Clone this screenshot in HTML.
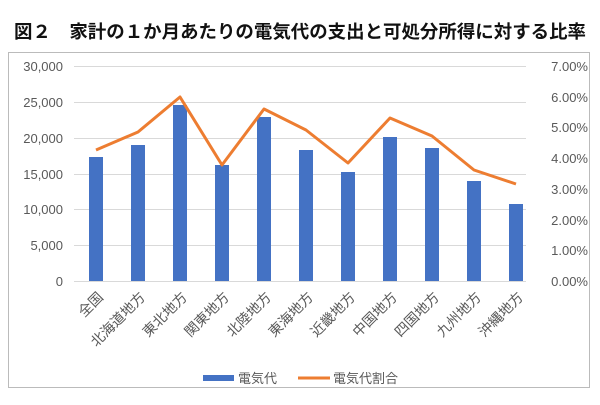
<!DOCTYPE html>
<html><head><meta charset="utf-8"><style>
body{margin:0;background:#fff;}
text{font-family:"Liberation Sans","Noto Sans CJK JP",sans-serif;}
</style></head><body>
<svg width="600" height="400" xmlns="http://www.w3.org/2000/svg">
<text x="14" y="38" font-size="18" font-weight="bold" fill="#111" textLength="572" lengthAdjust="spacingAndGlyphs">図２　家計の１か月あたりの電気代の支出と可処分所得に対する比率</text>
<rect x="8.5" y="52.5" width="581" height="335" fill="none" stroke="#bbb"/>
<g stroke="#d9d9d9" stroke-width="1">
<line x1="74" x2="526" y1="66.5" y2="66.5"/><line x1="74" x2="526" y1="102.5" y2="102.5"/>
<line x1="74" x2="526" y1="138.5" y2="138.5"/><line x1="74" x2="526" y1="174.5" y2="174.5"/>
<line x1="74" x2="526" y1="209.5" y2="209.5"/><line x1="74" x2="526" y1="245.5" y2="245.5"/>
<line x1="74" x2="526" y1="281.5" y2="281.5"/></g>
<g font-size="13" fill="#595959" text-anchor="end">
<text x="63" y="71">30,000</text><text x="63" y="107">25,000</text><text x="63" y="143">20,000</text>
<text x="63" y="179">15,000</text><text x="63" y="214">10,000</text><text x="63" y="250">5,000</text><text x="63" y="286">0</text>
</g>
<g font-size="13" fill="#595959" text-anchor="end">
<text x="588" y="71">7.00%</text><text x="588" y="102">6.00%</text><text x="588" y="132">5.00%</text>
<text x="588" y="163">4.00%</text><text x="588" y="194">3.00%</text><text x="588" y="225">2.00%</text>
<text x="588" y="255">1.00%</text><text x="588" y="286">0.00%</text>
</g>
<g fill="#4472c4">
<rect x="89" y="157" width="14" height="124"/>
<rect x="131" y="145" width="14" height="136"/>
<rect x="173" y="105" width="14" height="176"/>
<rect x="215" y="165" width="14" height="116"/>
<rect x="257" y="117" width="14" height="164"/>
<rect x="299" y="150" width="14" height="131"/>
<rect x="341" y="172" width="14" height="109"/>
<rect x="383" y="137" width="14" height="144"/>
<rect x="425" y="148" width="14" height="133"/>
<rect x="467" y="181" width="14" height="100"/>
<rect x="509" y="204" width="14" height="77"/>
</g>
<polyline fill="none" stroke="#ed7d31" stroke-width="3" stroke-linejoin="round"
points="96,150 138,132 180,97 222,165 264,109 306,130 348,163 390,118 432,136 474,170 516,184"/>
<g font-size="14" fill="#595959" text-anchor="end">
<text transform="translate(104,298) rotate(-45)">全国</text>
<text transform="translate(146,298) rotate(-45)">北海道地方</text>
<text transform="translate(188,298) rotate(-45)">東北地方</text>
<text transform="translate(230,298) rotate(-45)">関東地方</text>
<text transform="translate(272,298) rotate(-45)">北陸地方</text>
<text transform="translate(314,298) rotate(-45)">東海地方</text>
<text transform="translate(356,298) rotate(-45)">近畿地方</text>
<text transform="translate(398,298) rotate(-45)">中国地方</text>
<text transform="translate(440,298) rotate(-45)">四国地方</text>
<text transform="translate(482,298) rotate(-45)">九州地方</text>
<text transform="translate(524,298) rotate(-45)">沖縄地方</text>
</g>
<rect x="203" y="375" width="31" height="6" fill="#4472c4"/>
<text x="238" y="383" font-size="13" fill="#595959">電気代</text>
<line x1="298" x2="330" y1="378" y2="378" stroke="#ed7d31" stroke-width="3"/>
<text x="333" y="383" font-size="13" fill="#595959">電気代割合</text>
</svg>
</body></html>
